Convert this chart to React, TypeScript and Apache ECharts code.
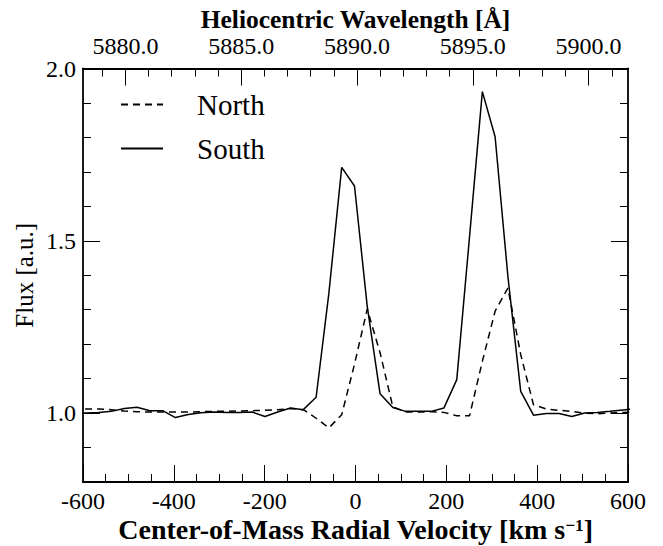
import React, { useEffect, useRef } from "react";
import * as echarts from "echarts";

// Center-of-mass radial velocity grid (km/s)
const velocity = [
  -621.8, -593.6, -565.4, -537.3, -509.1, -481.0, -452.8, -424.6, -396.5, -368.3,
  -340.2, -312.0, -283.8, -255.7, -227.5, -199.4, -171.2, -143.0, -114.9, -86.7,
  -58.6, -30.4, -2.2, 25.9, 54.1, 82.2, 110.4, 138.5, 166.7, 194.8,
  223.0, 251.1, 279.3, 307.4, 335.6, 363.8, 391.9, 420.1, 448.2, 476.4,
  504.5, 532.7, 560.8, 589.0, 617.2,
];

// Flux [a.u.] — North (dashed)
const north = [
  1.013, 1.012, 1.012, 1.010, 1.006, 1.004, 1.003, 1.003, 1.003, 1.003,
  1.004, 1.005, 1.005, 1.006, 1.007, 1.008, 1.010, 1.013, 1.010, 0.985,
  0.957, 0.995, 1.142, 1.302, 1.175, 1.018, 1.003, 1.003, 1.004, 1.002,
  0.992, 0.992, 1.150, 1.296, 1.363, 1.170, 1.024, 1.012, 1.008, 1.005,
  1.000, 0.998, 1.000, 1.002, 1.003,
];

// Flux [a.u.] — South (solid)
const south = [
  0.998, 1.000, 1.002, 1.005, 1.013, 1.017, 1.007, 1.007, 0.987, 0.996,
  1.001, 1.003, 1.002, 1.002, 1.003, 0.990, 1.003, 1.015, 1.010, 1.046,
  1.348, 1.713, 1.659, 1.309, 1.056, 1.016, 1.005, 1.005, 1.005, 1.015,
  1.097, 1.512, 1.933, 1.802, 1.396, 1.063, 0.994, 0.999, 0.999, 0.990,
  1.000, 1.002, 1.005, 1.009, 1.013,
];

const velMajor = [-600, -400, -200, 0, 200, 400, 600];
const velMinor = [
  -550, -500, -450, -350, -300, -250, -150, -100, -50,
  50, 100, 150, 250, 300, 350, 450, 500, 550,
];
const waveMajor = [5880, 5885, 5890, 5895, 5900];
const waveMinor = [
  5879, 5881, 5882, 5883, 5884, 5886, 5887, 5888, 5889, 5891, 5892, 5893, 5894,
  5896, 5897, 5898, 5899, 5901,
];
const fluxMajor = [1.0, 1.5, 2.0];
const fluxMinor = [0.9, 1.1, 1.2, 1.3, 1.4, 1.6, 1.7, 1.8, 1.9];

const VEL_MIN = -600;
const VEL_MAX = 600;
const WAVE_MIN = 5878.17;
const WAVE_MAX = 5901.7;
const FLUX_MIN = 0.8;
const FLUX_MAX = 2.0;

const FONT = "Liberation Serif";
const BLACK = "#000";

export default function App() {
  const ref = useRef<HTMLDivElement>(null);

  useEffect(() => {
    if (!ref.current) return;
    const chart = echarts.init(ref.current, null, { renderer: "svg" });

    const tickStyle = { color: BLACK, width: 1 };
    const labelStyle = { fontFamily: FONT, fontSize: 24, color: BLACK, lineHeight: 23 };

    const hAxis = (
      position: "top" | "bottom",
      min: number,
      max: number,
      ticks: number[],
      major: boolean,
      extra: any = {}
    ) => ({
      type: "value",
      position,
      min,
      max,
      axisLine: { show: major, onZero: false, lineStyle: { color: BLACK, width: 1.8 } },
      axisTick: {
        show: true,
        inside: true,
        length: major ? 17 : 8,
        customValues: ticks,
        lineStyle: tickStyle,
      },
      axisLabel: major
        ? { show: true, customValues: ticks, showMinLabel: true, showMaxLabel: true, ...labelStyle, ...(extra.axisLabel || {}) }
        : { show: false },
      splitLine: { show: false },
      ...(extra.rest || {}),
    });

    const vAxis = (
      position: "left" | "right",
      ticks: number[],
      major: boolean,
      showLabels: boolean,
      extra: any = {}
    ) => ({
      type: "value",
      position,
      min: FLUX_MIN,
      max: FLUX_MAX,
      axisLine: { show: major, onZero: false, lineStyle: { color: BLACK, width: 1.8 } },
      axisTick: {
        show: true,
        inside: true,
        length: major ? 17 : 8,
        customValues: ticks,
        lineStyle: tickStyle,
      },
      axisLabel: showLabels
        ? {
            show: true,
            customValues: ticks,
            margin: 7,
            formatter: (v: number) => v.toFixed(1),
            ...labelStyle,
          }
        : { show: false },
      splitLine: { show: false },
      ...extra,
    });

    chart.setOption({
      animation: false,
      backgroundColor: "#fff",
      grid: {
        left: 83,
        right: 35,
        top: 68.5,
        bottom: 64,
        containLabel: false,
        outerBoundsMode: "none",
      },
      legend: {
        orient: "vertical",
        left: 120,
        top: 90,
        padding: 0,
        itemWidth: 42,
        itemHeight: 14,
        itemGap: 15,
        data: ["North", "South"],
        itemStyle: { opacity: 0, borderWidth: 0 },
        formatter: (name: string) => `{g|}{t|${name}}`,
        textStyle: {
          color: BLACK,
          fontFamily: FONT,
          fontSize: 29,
          lineHeight: 29,
          rich: {
            g: { width: 29 },
            t: { fontFamily: FONT, fontSize: 29, color: BLACK, lineHeight: 29 },
          },
        },
      },
      xAxis: [
        hAxis("bottom", VEL_MIN, VEL_MAX, velMajor, true, {
          axisLabel: { margin: 7, formatter: (v: number) => String(v) },
          rest: {
            name: "Center-of-Mass Radial Velocity [km s{sup|\u22121}]",
            nameLocation: "middle",
            nameGap: 35,
            nameMoveOverlap: false,
            nameTextStyle: {
              fontFamily: FONT,
              fontSize: 28,
              fontWeight: "bold",
              color: BLACK,
              lineHeight: 25,
              rich: {
                sup: {
                  fontFamily: FONT,
                  fontSize: 17,
                  fontWeight: "bold",
                  color: BLACK,
                  verticalAlign: "top",
                  lineHeight: 25,
                },
              },
            },
          },
        }),
        hAxis("bottom", VEL_MIN, VEL_MAX, velMinor, false),
        hAxis("top", WAVE_MIN, WAVE_MAX, waveMajor, true, {
          axisLabel: { margin: 11, formatter: (v: number) => v.toFixed(1) },
          rest: {
            name: "Heliocentric Wavelength [\u00C5]",
            nameLocation: "middle",
            nameGap: 36,
            nameMoveOverlap: false,
            nameTextStyle: {
              fontFamily: FONT,
              fontSize: 25.5,
              fontWeight: "bold",
              color: BLACK,
              lineHeight: 26,
            },
          },
        }),
        hAxis("top", WAVE_MIN, WAVE_MAX, waveMinor, false),
      ],
      yAxis: [
        vAxis("left", fluxMajor, true, true, {
          name: "Flux [a.u.]",
          nameLocation: "middle",
          nameGap: 46,
          nameRotate: 90,
          nameMoveOverlap: false,
          nameTextStyle: { fontFamily: FONT, fontSize: 25, color: BLACK },
        }),
        vAxis("left", fluxMinor, false, false),
        vAxis("right", fluxMajor, true, false),
        vAxis("right", fluxMinor, false, false),
      ],
      series: [
        {
          name: "North",
          type: "line",
          xAxisIndex: 0,
          yAxisIndex: 0,
          data: velocity.map((v, i) => [v, north[i]]),
          symbol: "none",
          showSymbol: false,
          clip: true,
          lineStyle: { color: BLACK, width: 1.5, type: [7, 5] },
          itemStyle: { color: BLACK },
        },
        {
          name: "South",
          type: "line",
          xAxisIndex: 0,
          yAxisIndex: 0,
          data: velocity.map((v, i) => [v, south[i]]),
          symbol: "none",
          showSymbol: false,
          clip: true,
          lineStyle: { color: BLACK, width: 1.5, type: "solid" },
          itemStyle: { color: BLACK },
        },
      ],
    });

    return () => chart.dispose();
  }, []);

  return (
    <div
      ref={ref}
      style={{ position: "fixed", left: 0, top: 0, width: 663, height: 546, background: "#fff" }}
    />
  );
}
